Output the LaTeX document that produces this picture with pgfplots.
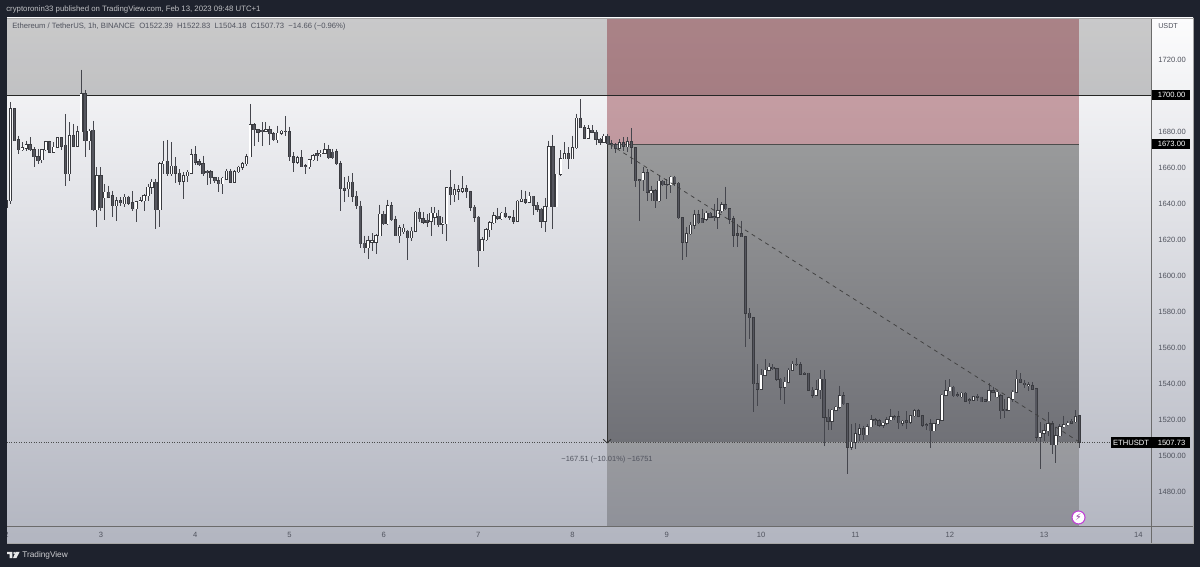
\documentclass[border=0pt]{standalone}
\usepackage{pgfplots}
\usepackage{pgfplotstable}
\usepackage{fontspec}
\pgfplotsset{compat=1.18}
\setmainfont{Liberation Sans}
\newfontfamily\symf{DejaVu Sans}
\definecolor{tvdark}{HTML}{1E222D}
\definecolor{bgtop}{HTML}{FCFCFD}
\definecolor{bgbot}{HTML}{B2B5C0}
\definecolor{txt}{HTML}{50535E}
\definecolor{wick}{HTML}{45464D}
\definecolor{edge}{HTML}{3A3B40}
\definecolor{downfill}{HTML}{55565E}
\definecolor{zonered}{RGB}{114,0,11}
\definecolor{HTMLtop}{HTML}{999A9B}
\definecolor{HTMLbot}{HTML}{707177}
\definecolor{HTMLtopb}{HTML}{9A9B9F}
\definecolor{HTMLbotb}{HTML}{8F9199}
\definecolor{HTMLpurple}{HTML}{C03FD6}
\pgfplotstableread{
t o h l c
0 1637.7 1647.3 1637.1 1641.7
1 1641.7 1696.3 1639.9 1692.6
2 1692.6 1693.0 1674.5 1675.0
3 1675.4 1677.8 1667.6 1669.8
4 1669.8 1674.1 1669.4 1670.9
5 1670.9 1675.0 1669.1 1672.8
6 1672.8 1676.8 1669.4 1669.8
7 1669.8 1671.3 1660.2 1666.1
8 1666.1 1670.4 1662.1 1663.9
9 1664.3 1670.4 1662.4 1669.8
10 1669.8 1675.0 1669.4 1674.3
11 1674.3 1675.0 1668.0 1668.5
12 1668.5 1674.1 1668.0 1671.3
13 1671.3 1676.8 1671.0 1676.5
14 1676.5 1676.8 1669.5 1672.0
15 1672.4 1689.8 1650.0 1656.5
16 1656.5 1685.2 1652.8 1677.8
17 1677.8 1684.3 1671.3 1672.0
18 1672.0 1683.3 1671.7 1680.0
19 1680.0 1714.4 1679.6 1700.9
20 1700.9 1703.1 1666.1 1675.0
21 1675.0 1681.5 1669.5 1680.2
22 1680.6 1686.1 1636.2 1636.7
23 1636.7 1660.2 1626.9 1655.6
24 1655.6 1660.2 1636.2 1637.7
25 1643.2 1651.0 1631.0 1646.3
26 1646.3 1650.0 1643.2 1643.6
27 1644.3 1647.3 1632.5 1638.8
28 1638.8 1643.6 1630.6 1641.7
29 1641.7 1643.6 1638.9 1640.6
30 1639.9 1645.4 1638.4 1643.6
31 1643.6 1644.5 1639.5 1640.2
32 1640.6 1646.9 1636.2 1637.1
33 1637.1 1641.7 1629.7 1641.0
34 1641.0 1643.6 1640.8 1641.7
35 1641.7 1645.4 1635.8 1644.3
36 1644.3 1651.0 1641.7 1649.1
37 1649.1 1653.7 1645.4 1651.9
38 1651.9 1653.7 1626.0 1636.7
39 1636.7 1663.0 1626.9 1662.1
40 1662.1 1675.0 1656.5 1663.5
41 1663.5 1675.4 1655.6 1656.5
42 1656.5 1674.1 1655.6 1660.8
43 1660.8 1665.7 1651.3 1656.9
44 1656.9 1659.3 1650.6 1652.4
45 1652.4 1657.4 1642.6 1655.6
46 1655.6 1658.4 1651.9 1657.4
47 1656.9 1670.4 1656.5 1667.0
48 1667.0 1671.9 1661.7 1663.0
49 1663.3 1664.8 1661.1 1661.7
50 1662.1 1666.7 1655.6 1656.5
51 1658.0 1658.4 1650.4 1657.1
52 1657.8 1658.4 1651.0 1654.3
53 1654.3 1655.0 1651.3 1652.8
54 1652.8 1654.6 1646.3 1651.0
55 1651.0 1655.0 1645.4 1654.1
56 1653.7 1659.3 1653.4 1658.0
57 1658.0 1659.3 1651.3 1651.9
58 1651.9 1658.4 1651.3 1657.6
59 1657.6 1661.1 1656.9 1660.2
60 1660.2 1663.0 1658.7 1662.1
61 1662.1 1667.6 1661.1 1666.1
62 1666.1 1695.4 1665.7 1683.9
63 1683.9 1684.6 1672.2 1680.9
64 1680.9 1681.5 1674.1 1679.6
65 1680.6 1685.2 1672.2 1680.0
66 1680.2 1685.2 1679.6 1680.9
67 1680.9 1683.3 1672.8 1678.7
68 1678.7 1679.6 1674.6 1675.4
69 1675.4 1683.3 1673.5 1679.1
70 1679.1 1680.6 1678.3 1680.2
71 1680.2 1688.7 1677.8 1679.8
72 1680.0 1682.8 1663.9 1666.1
73 1666.1 1668.5 1657.4 1663.0
74 1663.0 1666.7 1662.1 1665.4
75 1665.4 1669.5 1660.2 1660.6
76 1661.0 1662.1 1656.5 1660.6
77 1660.6 1664.8 1659.3 1664.3
78 1664.3 1667.6 1663.9 1666.7
79 1667.6 1669.5 1663.9 1666.7
80 1667.6 1669.5 1665.7 1668.0
81 1668.0 1673.5 1667.6 1669.8
82 1669.8 1672.8 1664.8 1665.4
83 1668.5 1670.4 1664.8 1665.4
84 1668.9 1670.4 1661.7 1662.1
85 1662.1 1663.9 1636.2 1648.2
86 1648.6 1654.6 1640.8 1647.6
87 1648.2 1655.6 1643.6 1651.9
88 1651.9 1656.9 1640.8 1644.1
89 1644.1 1646.9 1637.1 1638.9
90 1638.6 1641.7 1615.4 1617.7
91 1618.0 1622.3 1612.5 1615.5
92 1615.5 1622.3 1609.4 1619.5
93 1618.6 1623.6 1614.0 1619.5
94 1618.6 1623.2 1611.8 1622.3
95 1622.3 1639.5 1621.8 1634.0
96 1634.0 1636.2 1628.4 1628.8
97 1628.8 1642.3 1628.4 1638.8
98 1638.8 1640.8 1630.3 1631.0
99 1631.0 1633.4 1622.0 1622.3
100 1622.3 1627.9 1618.0 1626.6
101 1624.4 1628.8 1623.2 1626.4
102 1624.7 1625.5 1608.5 1621.0
103 1621.0 1627.0 1619.2 1624.7
104 1624.7 1635.8 1624.2 1635.3
105 1635.3 1637.7 1629.7 1631.6
106 1631.6 1635.3 1628.8 1629.7
107 1630.7 1634.3 1627.0 1629.7
108 1630.3 1638.0 1622.3 1634.7
109 1632.5 1638.0 1627.9 1634.7
110 1632.9 1636.6 1627.3 1628.2
111 1628.6 1632.5 1622.9 1629.2
112 1628.8 1649.2 1619.5 1648.8
113 1648.8 1658.4 1639.5 1644.9
114 1644.9 1651.0 1640.8 1647.7
115 1646.9 1650.1 1641.8 1647.7
116 1646.9 1655.1 1645.8 1648.2
117 1648.2 1650.1 1643.2 1646.7
118 1646.7 1647.3 1636.2 1638.0
119 1638.0 1639.0 1629.7 1632.5
120 1632.5 1632.9 1604.8 1614.0
121 1614.0 1621.4 1613.6 1619.9
122 1619.9 1626.6 1619.5 1625.5
123 1625.5 1630.3 1621.4 1629.4
124 1629.4 1635.3 1628.8 1633.2
125 1632.9 1637.7 1631.0 1631.8
126 1631.6 1635.3 1631.0 1634.7
127 1634.7 1638.0 1632.1 1632.9
128 1632.9 1633.4 1631.0 1632.1
129 1632.1 1636.6 1628.8 1630.3
130 1630.3 1641.8 1629.9 1641.4
131 1641.4 1647.7 1640.8 1642.5
132 1642.3 1647.3 1639.9 1640.8
133 1640.8 1646.4 1640.3 1644.0
134 1644.0 1644.3 1633.6 1639.0
135 1639.0 1640.8 1635.3 1636.8
136 1636.8 1637.7 1626.6 1630.3
137 1630.3 1643.2 1624.4 1638.4
138 1638.4 1675.0 1638.0 1671.7
139 1671.7 1678.2 1626.0 1638.4
140 1638.4 1656.5 1638.0 1656.2
141 1656.2 1669.5 1655.6 1664.9
142 1664.9 1674.1 1664.5 1667.7
143 1667.7 1671.3 1659.3 1664.9
144 1664.9 1677.8 1664.5 1671.0
145 1671.0 1689.9 1670.4 1687.4
146 1687.4 1697.8 1681.7 1682.1
147 1682.1 1683.4 1676.0 1676.3
148 1676.3 1683.4 1676.0 1681.5
149 1680.6 1683.4 1679.1 1679.7
150 1679.7 1680.6 1672.3 1675.6
151 1675.6 1676.5 1672.3 1674.1
152 1674.1 1678.8 1673.6 1677.5
153 1677.5 1678.4 1672.3 1673.2
154 1673.2 1675.4 1670.4 1672.8
155 1672.8 1673.5 1668.2 1670.9
156 1670.7 1675.9 1670.4 1673.7
157 1673.9 1676.9 1669.4 1672.0
158 1671.7 1676.9 1668.5 1674.4
159 1674.4 1682.0 1662.0 1671.3
160 1670.9 1671.3 1649.5 1652.8
161 1653.2 1653.7 1630.6 1652.8
162 1653.2 1660.2 1647.3 1657.0
163 1657.0 1659.3 1641.3 1646.3
164 1646.1 1650.0 1641.7 1647.3
165 1647.3 1648.2 1637.6 1641.7
166 1641.7 1655.6 1640.8 1652.4
167 1652.4 1653.2 1650.0 1650.6
168 1650.6 1653.7 1642.6 1650.4
169 1650.6 1655.6 1645.8 1654.7
170 1654.7 1655.6 1650.0 1651.3
171 1651.3 1651.9 1631.5 1632.1
172 1632.1 1632.5 1608.8 1618.6
173 1618.6 1627.3 1610.3 1623.2
174 1623.2 1629.7 1622.8 1628.0
175 1628.0 1636.5 1626.0 1633.9
176 1633.9 1636.5 1628.8 1629.5
177 1631.5 1637.1 1629.1 1629.5
178 1631.5 1636.2 1630.2 1634.7
179 1634.7 1635.2 1632.1 1632.5
180 1632.8 1639.9 1630.6 1632.5
181 1632.5 1643.2 1626.0 1636.2
182 1636.2 1640.8 1634.7 1639.5
183 1639.5 1649.5 1636.5 1637.1
184 1637.1 1637.6 1628.8 1631.5
185 1631.5 1633.4 1616.2 1622.6
186 1623.2 1628.8 1615.8 1622.6
187 1623.2 1630.6 1621.4 1621.7
188 1621.7 1622.3 1560.3 1579.3
189 1579.3 1582.1 1564.9 1576.6
190 1576.6 1576.9 1524.2 1540.0
191 1540.0 1551.0 1527.6 1537.2
192 1537.2 1548.3 1536.8 1544.9
193 1544.9 1553.8 1544.6 1547.7
194 1547.7 1551.4 1547.4 1549.2
195 1549.2 1551.0 1547.7 1548.5
196 1548.5 1548.8 1541.8 1542.7
197 1542.7 1543.3 1531.1 1538.1
198 1538.1 1544.0 1528.9 1540.9
199 1540.9 1548.8 1540.5 1547.7
200 1547.7 1552.9 1547.4 1551.0
201 1551.0 1554.2 1550.1 1550.7
202 1550.7 1552.0 1544.9 1545.5
203 1545.9 1546.4 1545.1 1545.5
204 1545.9 1546.2 1536.3 1536.6
205 1536.6 1538.1 1532.2 1533.8
206 1533.8 1542.2 1533.5 1536.8
207 1536.8 1547.7 1531.6 1542.7
208 1542.7 1547.7 1505.7 1521.5
209 1521.5 1526.1 1514.4 1519.2
210 1519.2 1526.1 1514.4 1525.5
211 1525.5 1527.9 1524.8 1527.0
212 1527.0 1539.0 1526.1 1533.5
213 1533.5 1535.3 1528.5 1528.9
214 1528.9 1529.2 1490.0 1504.8
215 1504.8 1517.8 1503.3 1507.6
216 1507.6 1518.1 1503.9 1512.2
217 1512.2 1517.8 1508.5 1515.0
218 1515.0 1516.8 1508.9 1511.8
219 1511.8 1517.8 1511.5 1516.3
220 1516.3 1522.9 1515.9 1520.0
221 1520.0 1521.1 1517.4 1519.6
222 1519.6 1520.5 1515.9 1517.2
223 1517.0 1518.7 1515.5 1518.1
224 1518.1 1521.8 1517.4 1520.2
225 1520.2 1526.1 1519.6 1521.8
226 1521.8 1522.9 1520.0 1521.5
227 1521.8 1524.8 1515.0 1518.5
228 1518.1 1520.0 1516.8 1519.4
229 1519.6 1524.8 1515.0 1518.7
230 1518.7 1522.9 1517.8 1522.4
231 1522.4 1526.1 1521.8 1525.2
232 1525.2 1526.1 1521.5 1522.2
233 1522.2 1522.9 1515.9 1517.2
234 1517.4 1518.1 1514.4 1516.8
235 1517.8 1520.5 1504.4 1514.0
236 1514.0 1518.1 1513.7 1517.8
237 1517.8 1520.5 1517.4 1520.0
238 1520.0 1534.4 1519.6 1533.8
239 1533.8 1542.2 1533.5 1536.3
240 1536.3 1542.7 1535.9 1538.1
241 1538.1 1539.0 1532.9 1533.5
242 1534.0 1535.3 1532.6 1533.5
243 1532.9 1535.3 1532.2 1534.8
244 1534.8 1535.3 1529.8 1530.3
245 1531.1 1532.2 1528.9 1530.7
246 1531.1 1533.5 1530.3 1532.9
247 1533.1 1534.4 1530.3 1532.6
248 1532.6 1532.9 1529.8 1530.1
249 1531.1 1531.6 1530.0 1530.3
250 1530.7 1540.3 1530.3 1536.3
251 1536.3 1538.5 1534.8 1535.3
252 1532.9 1536.3 1532.2 1535.3
253 1533.5 1534.4 1520.5 1525.2
254 1525.9 1531.6 1521.1 1525.2
255 1525.5 1532.9 1525.2 1532.2
256 1531.6 1536.6 1529.8 1535.3
257 1535.3 1547.7 1534.8 1542.5
258 1542.5 1545.9 1540.3 1540.9
259 1540.3 1542.2 1537.7 1539.6
260 1539.0 1540.9 1535.9 1539.6
261 1539.0 1540.9 1536.6 1537.2
262 1537.2 1537.7 1508.5 1510.4
263 1510.4 1518.7 1492.8 1512.6
264 1512.6 1517.8 1508.5 1514.0
265 1514.0 1524.2 1511.3 1517.8
266 1517.8 1519.2 1501.1 1506.3
267 1506.3 1516.3 1496.3 1511.3
268 1511.3 1517.8 1510.7 1516.3
269 1516.3 1522.4 1515.5 1517.4
270 1517.4 1519.6 1516.8 1518.3
271 1519.2 1520.5 1517.8 1518.1
272 1519.0 1525.5 1518.3 1521.8
273 1522.39 1522.83 1504.18 1507.73
}\ohlc
\pgfplotsset{
  bar layer/.style={draw=none, no marks, forget plot,
    error bars/.cd, y dir=minus, y explicit, error mark=none,
    error bar style={line width=#1}},
}
\begin{document}
\begin{tikzpicture}[x=0.75pt,y=-0.75pt]
\fill[tvdark] (0,0) rectangle (1200,567);
\fill[top color=bgtop,bottom color=bgbot] (7,18) rectangle (1193,543.5);
\begin{axis}[
  at={(4.875pt,-394.9pt)}, anchor=south west, scale only axis,
  width=858.4pt, height=381pt,
  xmin=0, xmax=291.2, ymin=1460.9, ymax=1742.7,
  axis line style={draw=none}, major tick length=0pt,
  xtick={0,24,...,288}, xticklabels={2,3,4,5,6,7,8,9,10,11,12,13,14},
  ytick={1480,1500,1520,1540,1560,1580,1600,1620,1640,1660,1680,1720},
  yticklabel pos=right,
  y tick label style={/pgf/number format/.cd,fixed,fixed zerofill,precision=2,1000 sep={},assume math mode=true,/tikz/.cd,
     font=\fontsize{5.7}{7}\selectfont,text=txt,anchor=west,xshift=2pt},
  x tick label style={font=\fontsize{5.7}{7}\selectfont,text=txt,anchor=center,yshift=-6.6pt},
]
% zones
\addplot[draw=none,fill=black,fill opacity=.2,forget plot] coordinates {(0,1700)(291.2,1700)(291.2,1742.7)(0,1742.7)} -- cycle;
\addplot[draw=none,fill=zonered,fill opacity=.35,forget plot] coordinates {(152.8,1673)(272.8,1673)(272.8,1742.7)(152.8,1742.7)} -- cycle;
\addplot[draw=none,top color=HTMLtop,bottom color=HTMLbot,forget plot] coordinates {(152.8,1507.73)(272.8,1507.73)(272.8,1673)(152.8,1673)} -- cycle;
\addplot[draw=none,top color=HTMLtopb,bottom color=HTMLbotb,forget plot] coordinates {(152.8,1460.9)(272.8,1460.9)(272.8,1507.73)(152.8,1507.73)} -- cycle;
% horizontal levels
\addplot[black!85,line width=.75pt,forget plot] coordinates {(0,1700)(291.2,1700)};
\addplot[black!70,line width=.75pt,forget plot] coordinates {(152.8,1673)(272.8,1673)};
\addplot[black!70,line width=.5pt,dash pattern=on .75pt off 1.1pt,forget plot] coordinates {(0,1507.73)(291.2,1507.73)};
% measuring arrow
\addplot[black!80,line width=.75pt,forget plot] coordinates {(152.8,1673)(152.8,1507.73)};
\addplot[black!80,line width=.6pt,forget plot] coordinates {(151.8,1509.3)(152.8,1507.3)(153.8,1509.3)};
% wicks
\addplot[bar layer=.72pt,error bar style={color=wick}] table[x=t,y=h,y error minus expr=\thisrow{h}-\thisrow{l}] {\ohlc};
% bodies: down
\addplot[bar layer=2.5pt,error bar style={color=edge}] table[x=t,
  y expr={\thisrow{c}<\thisrow{o} ? \thisrow{o}+0.3 : nan},y error minus expr=\thisrow{o}-\thisrow{c}+0.6] {\ohlc};
\addplot[bar layer=1.2pt,error bar style={color=downfill}] table[x=t,
  y expr={\thisrow{c}<\thisrow{o} ? \thisrow{o} : nan},y error minus expr=\thisrow{o}-\thisrow{c}] {\ohlc};
% bodies: up
\addplot[bar layer=2.5pt,error bar style={color=edge}] table[x=t,
  y expr={\thisrow{c}>=\thisrow{o} ? \thisrow{c}+0.3 : nan},y error minus expr=\thisrow{c}-\thisrow{o}+0.6] {\ohlc};
\addplot[bar layer=1.2pt,error bar style={color=white}] table[x=t,
  y expr={\thisrow{c}>=\thisrow{o} ? \thisrow{c} : nan},y error minus expr=\thisrow{c}-\thisrow{o}] {\ohlc};
% dashed trend line
\addplot[black!75,line width=.55pt,dash pattern=on 3pt off 3pt,forget plot] coordinates {(153.5,1673)(273,1507.73)};
\end{axis}
% frame lines
\draw[color=black!58,line width=.9pt] (1151.5,18) -- (1151.5,543.5);
\draw[color=black!58,line width=.9pt] (7,526.3) -- (1193,526.3);
\fill[tvdark] (0,18) rectangle (6.6,543.5);
\draw[color=gray!70,line width=.5pt] (7,18) -- (1193,18) -- (1193,543.5) -- (7,543.5);
% texts
\node[anchor=west,inner sep=0,text=white!72!tvdark,font=\fontsize{5.85}{7}\selectfont] at (6,9.5) {cryptoronin33 published on TradingView.com, Feb 13, 2023 09:48 UTC+1};
\node[anchor=west,inner sep=0,text=txt,font=\fontsize{5.75}{7}\selectfont] at (12,27) {Ethereum / TetherUS, 1h, BINANCE\ \ O1522.39\ \ H1522.83\ \ L1504.18\ \ C1507.73\ \ −14.66 (−0.96\%)};
\node[anchor=west,inner sep=0,text=txt,font=\fontsize{5.4}{7}\selectfont] at (1158,26.5) {USDT};
\node[text=txt,inner sep=0,font=\fontsize{5.6}{7}\selectfont] at (607,460) {−167.51 (−10.01\%) −16751};
% price labels
\fill[black] (1152,90) rectangle (1190,100.3);
\node[text=white,inner sep=0,font=\fontsize{5.7}{7}\selectfont] at (1171.5,95.3) {1700.00};
\fill[black] (1152,139) rectangle (1190,149.3);
\node[text=white,inner sep=0,font=\fontsize{5.7}{7}\selectfont] at (1171.5,144.3) {1673.00};
\fill[black] (1111,437) rectangle (1190,448);
\node[text=white,inner sep=0,font=\fontsize{5.7}{7}\selectfont] at (1131,442.5) {ETHUSDT};
\node[text=white,inner sep=0,font=\fontsize{5.7}{7}\selectfont] at (1171.5,442.5) {1507.73};
% lightning marker
\draw[fill=white,draw=HTMLpurple,line width=.8pt] (1078.5,517.5) circle[radius=6.5];
\node[text=HTMLpurple!70!black,inner sep=0,font=\symf\fontsize{7}{8}\selectfont] at (1078.5,517.5) {⚡};
% footer
\fill[white!90!tvdark] (7,552) -- (12.2,552) -- (12.2,558.2) -- (9.6,558.2) -- (9.6,554.2) -- (7,554.2) -- cycle;
\fill[white!90!tvdark] (14.2,553.1) circle[radius=1.1];
\fill[white!90!tvdark] (15.6,552) -- (19.5,552) -- (16.3,558.2) -- (12.9,558.2) -- cycle;
\node[anchor=west,inner sep=0,text=white!78!tvdark,font=\fontsize{6.2}{8}\selectfont] at (22,555.2) {TradingView};
\end{tikzpicture}
\end{document}
